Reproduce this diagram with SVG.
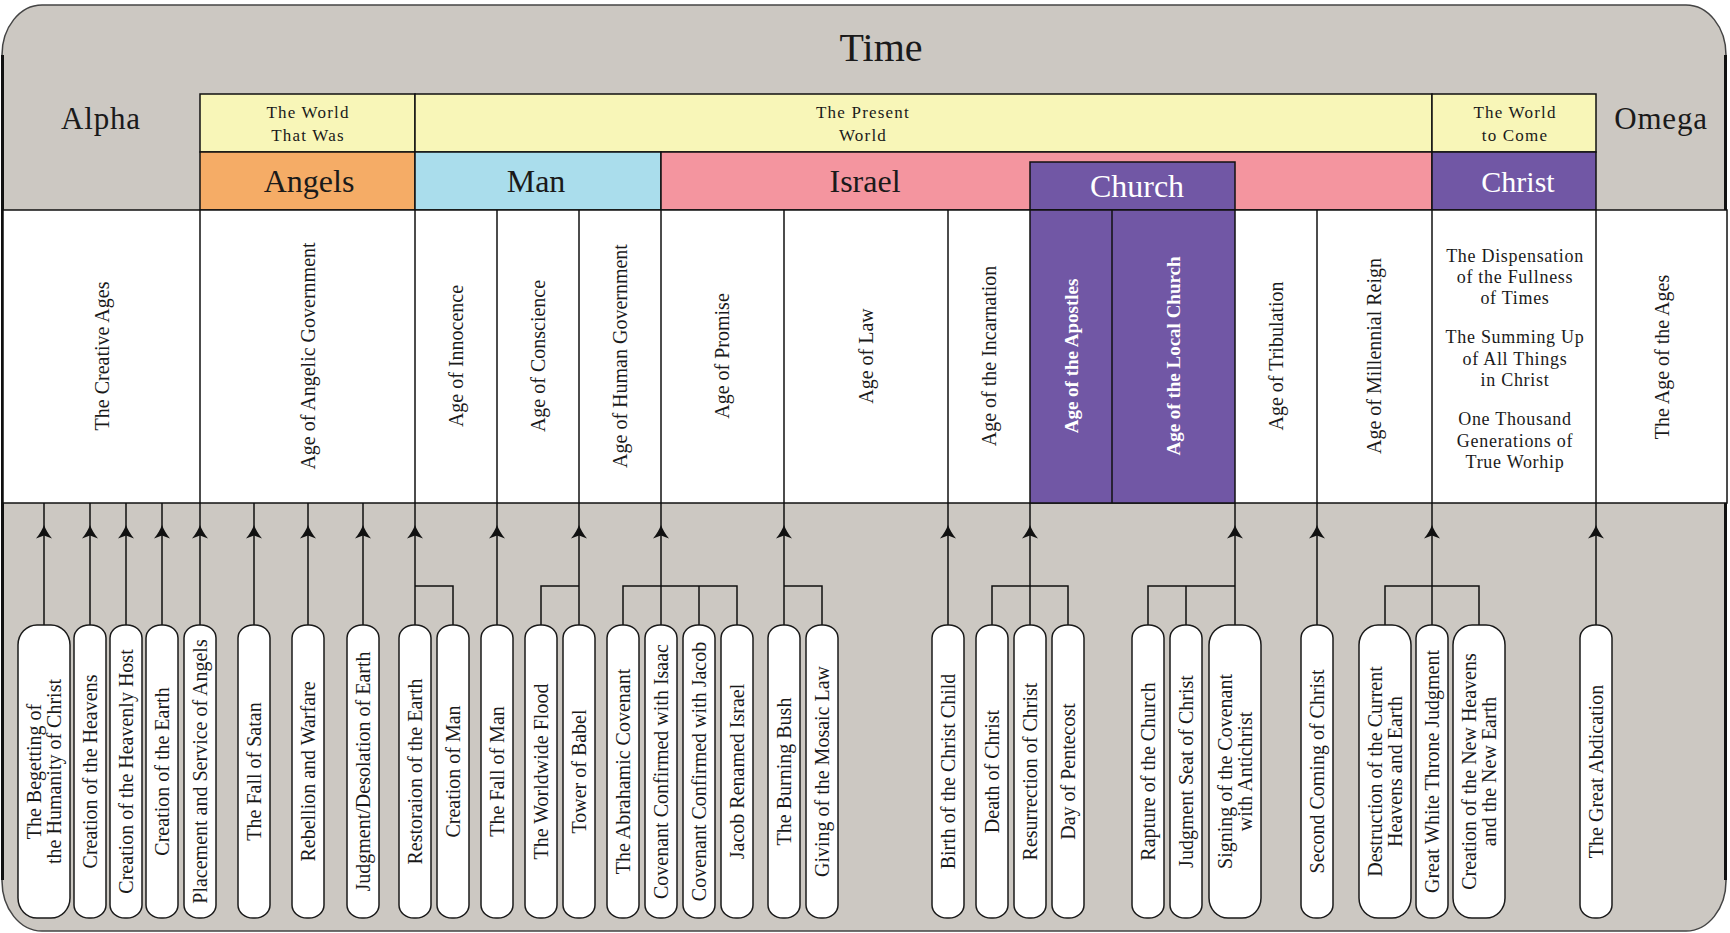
<svg xmlns="http://www.w3.org/2000/svg" xmlns:xlink="http://www.w3.org/1999/xlink" width="1730" height="933" viewBox="0 0 1730 933">
<defs>
<style>
text{font-family:"Liberation Serif","DejaVu Serif",serif;fill:#1a1a1a}
.cell{stroke:#111;stroke-width:1.5}
.pill{fill:#fff;stroke:#1a1a1a;stroke-width:1.5}
.ln{fill:none;stroke:#111;stroke-width:1.5}
.hdr{font-size:32px;text-anchor:middle}
.sm{font-size:17px;text-anchor:middle;letter-spacing:1.2px}
.v{font-size:20px;text-anchor:middle}
.vw{font-size:19px;text-anchor:middle;fill:#fff;font-weight:bold}
.blk{font-size:18px;text-anchor:middle;letter-spacing:0.7px}
.pt{font-size:20px;text-anchor:middle}
</style>
<path id="ah" d="M0,0 C-1.5,4 -4.5,9.5 -8,13.5 L0,10.5 L8,13.5 C4.5,9.5 1.5,4 0,0 Z" fill="#111"/>
</defs>

<g id="frame">
<rect x="2" y="5" width="1724" height="926" rx="40" ry="50" fill="#CCC8C2" stroke="#444" stroke-width="1.5"/>
<line x1="2.5" y1="55" x2="2.5" y2="880" stroke="#111" stroke-width="3"/>
<line x1="1725.5" y1="55" x2="1725.5" y2="880" stroke="#111" stroke-width="3"/>
<text x="881" y="61" style="font-size:40px;text-anchor:middle">Time</text>
<text x="101" y="129" class="hdr" style="font-size:31px;letter-spacing:0.8px">Alpha</text>
<text x="1661" y="129" class="hdr" style="font-size:31px;letter-spacing:0.8px">Omega</text>
</g>

<g id="worlds">
<rect class="cell" x="200" y="94" width="215" height="58" fill="#F8F6B8"/>
<rect class="cell" x="415" y="94" width="1017" height="58" fill="#F8F6B8"/>
<rect class="cell" x="1432" y="94" width="164" height="58" fill="#F8F6B8"/>
<text class="sm" x="308" y="118">The World</text>
<text class="sm" x="308" y="141">That Was</text>
<text class="sm" x="863" y="118">The Present</text>
<text class="sm" x="863" y="141">World</text>
<text class="sm" x="1515" y="118">The World</text>
<text class="sm" x="1515" y="141">to Come</text>
</g>

<g id="peoples">
<rect class="cell" x="200" y="152" width="215" height="58" fill="#F5AC66"/>
<rect class="cell" x="415" y="152" width="246" height="58" fill="#AADDEC"/>
<rect class="cell" x="661" y="152" width="771" height="58" fill="#F4959F"/>
<rect class="cell" x="1030" y="162" width="205" height="48" fill="#7157A5"/>
<rect class="cell" x="1432" y="152" width="164" height="58" fill="#7157A5"/>
<text class="hdr" x="309" y="192">Angels</text>
<text class="hdr" x="536" y="192">Man</text>
<text class="hdr" x="865" y="192">Israel</text>
<text class="hdr" x="1137" y="197" style="fill:#fff">Church</text>
<text class="hdr" x="1518" y="192" style="fill:#fff;font-size:30px">Christ</text>
</g>

<g id="ages">
<rect class="cell" x="3" y="210" width="1724" height="293" fill="#fff"/>
<rect class="cell" x="1030" y="210" width="205" height="293" fill="#7157A5"/>
<g class="ln">
<line x1="200" y1="210" x2="200" y2="503"/>
<line x1="415" y1="210" x2="415" y2="503"/>
<line x1="497" y1="210" x2="497" y2="503"/>
<line x1="579" y1="210" x2="579" y2="503"/>
<line x1="661" y1="210" x2="661" y2="503"/>
<line x1="784" y1="210" x2="784" y2="503"/>
<line x1="948" y1="210" x2="948" y2="503"/>
<line x1="1112" y1="210" x2="1112" y2="503"/>
<line x1="1317" y1="210" x2="1317" y2="503"/>
<line x1="1432" y1="210" x2="1432" y2="503"/>
<line x1="1596" y1="210" x2="1596" y2="503"/>
</g>
<text class="v" transform="translate(102,356) rotate(-90)" y="7">The Creative Ages</text>
<text class="v" transform="translate(308,356) rotate(-90)" y="7">Age of Angelic Government</text>
<text class="v" transform="translate(456,356) rotate(-90)" y="7">Age of Innocence</text>
<text class="v" transform="translate(538,356) rotate(-90)" y="7">Age of Conscience</text>
<text class="v" transform="translate(620,356) rotate(-90)" y="7">Age of Human Government</text>
<text class="v" transform="translate(722,356) rotate(-90)" y="7">Age of Promise</text>
<text class="v" transform="translate(866,356) rotate(-90)" y="7">Age of Law</text>
<text class="v" transform="translate(989,356) rotate(-90)" y="7">Age of the Incarnation</text>
<text class="vw" transform="translate(1071,356) rotate(-90)" y="7">Age of the Apostles</text>
<text class="vw" transform="translate(1173,356) rotate(-90)" y="7">Age of the Local Church</text>
<text class="v" transform="translate(1276,356) rotate(-90)" y="7">Age of Tribulation</text>
<text class="v" transform="translate(1374,356) rotate(-90)" y="7">Age of Millennial Reign</text>
<text class="v" transform="translate(1662,357) rotate(-90)" y="7">The Age of the Ages</text>
<text class="blk" x="1515" y="262">The Dispensation</text>
<text class="blk" x="1515" y="283">of the Fullness</text>
<text class="blk" x="1515" y="304">of Times</text>
<text class="blk" x="1515" y="343">The Summing Up</text>
<text class="blk" x="1515" y="365">of All Things</text>
<text class="blk" x="1515" y="386">in Christ</text>
<text class="blk" x="1515" y="425">One Thousand</text>
<text class="blk" x="1515" y="447">Generations of</text>
<text class="blk" x="1515" y="468">True Worhip</text>
</g>

<g id="connectors">
<g class="ln">
<path d="M44,625V503M90,625V503M126,625V503M162,625V503M200,625V503M254,625V503M308,625V503M363,625V503M415,625V503M497,625V503M579,625V503M661,625V503M784,625V503M948,625V503M1030,625V503M1235,625V503M1317,625V503M1432,625V503M1596,625V503"/>
<path d="M453,625V586H415"/>
<path d="M541,625V586H579"/>
<path d="M623,625V586H737V625M699,586V625"/>
<path d="M822,625V586H784"/>
<path d="M992,625V586H1068V625"/>
<path d="M1148,625V586H1235M1186,586V625"/>
<path d="M1385,625V586H1479V625"/>
</g>
<use xlink:href="#ah" x="44" y="525"/>
<use xlink:href="#ah" x="90" y="525"/>
<use xlink:href="#ah" x="126" y="525"/>
<use xlink:href="#ah" x="162" y="525"/>
<use xlink:href="#ah" x="200" y="525"/>
<use xlink:href="#ah" x="254" y="525"/>
<use xlink:href="#ah" x="308" y="525"/>
<use xlink:href="#ah" x="363" y="525"/>
<use xlink:href="#ah" x="415" y="525"/>
<use xlink:href="#ah" x="497" y="525"/>
<use xlink:href="#ah" x="579" y="525"/>
<use xlink:href="#ah" x="661" y="525"/>
<use xlink:href="#ah" x="784" y="525"/>
<use xlink:href="#ah" x="948" y="525"/>
<use xlink:href="#ah" x="1030" y="525"/>
<use xlink:href="#ah" x="1235" y="525"/>
<use xlink:href="#ah" x="1317" y="525"/>
<use xlink:href="#ah" x="1432" y="525"/>
<use xlink:href="#ah" x="1596" y="525"/>
</g>

<g id="events">
<g id="ev-begetting"><rect class="pill" x="18" y="625" width="52" height="293" rx="19" ry="20"/><text class="pt" transform="translate(44,771.5) rotate(-90)"><tspan x="0" y="-3">The Begetting of</tspan><tspan x="0" y="17">the Humanity of Christ</tspan></text></g>
<g id="ev-heavens"><rect class="pill" x="74" y="625" width="32" height="293" rx="15" ry="13"/><text class="pt" transform="translate(90,771.5) rotate(-90)" y="7">Creation of the Heavens</text></g>
<g id="ev-host"><rect class="pill" x="110" y="625" width="32" height="293" rx="15" ry="13"/><text class="pt" transform="translate(126,771.5) rotate(-90)" y="7">Creation of the Heavenly Host</text></g>
<g id="ev-earth"><rect class="pill" x="146" y="625" width="32" height="293" rx="15" ry="13"/><text class="pt" transform="translate(162,771.5) rotate(-90)" y="7">Creation of the Earth</text></g>
<g id="ev-angels"><rect class="pill" x="184" y="625" width="32" height="293" rx="15" ry="13"/><text class="pt" transform="translate(200,771.5) rotate(-90)" y="7">Placement and Service of Angels</text></g>
<g id="ev-satan"><rect class="pill" x="238" y="625" width="32" height="293" rx="15" ry="13"/><text class="pt" transform="translate(254,771.5) rotate(-90)" y="7">The Fall of Satan</text></g>
<g id="ev-rebellion"><rect class="pill" x="292" y="625" width="32" height="293" rx="15" ry="13"/><text class="pt" transform="translate(308,771.5) rotate(-90)" y="7">Rebellion and Warfare</text></g>
<g id="ev-judgment"><rect class="pill" x="347" y="625" width="32" height="293" rx="15" ry="13"/><text class="pt" transform="translate(363,771.5) rotate(-90)" y="7">Judgment/Desolation of Earth</text></g>
<g id="ev-restoration"><rect class="pill" x="399" y="625" width="32" height="293" rx="15" ry="13"/><text class="pt" transform="translate(415,771.5) rotate(-90)" y="7">Restoraion of the Earth</text></g>
<g id="ev-man"><rect class="pill" x="437" y="625" width="32" height="293" rx="15" ry="13"/><text class="pt" transform="translate(453,771.5) rotate(-90)" y="7">Creation of Man</text></g>
<g id="ev-fallman"><rect class="pill" x="481" y="625" width="32" height="293" rx="15" ry="13"/><text class="pt" transform="translate(497,771.5) rotate(-90)" y="7">The Fall of Man</text></g>
<g id="ev-flood"><rect class="pill" x="525" y="625" width="32" height="293" rx="15" ry="13"/><text class="pt" transform="translate(541,771.5) rotate(-90)" y="7">The Worldwide Flood</text></g>
<g id="ev-babel"><rect class="pill" x="563" y="625" width="32" height="293" rx="15" ry="13"/><text class="pt" transform="translate(579,771.5) rotate(-90)" y="7">Tower of Babel</text></g>
<g id="ev-abraham"><rect class="pill" x="607" y="625" width="32" height="293" rx="15" ry="13"/><text class="pt" transform="translate(623,771.5) rotate(-90)" y="7">The Abrahamic Covenant</text></g>
<g id="ev-isaac"><rect class="pill" x="645" y="625" width="32" height="293" rx="15" ry="13"/><text class="pt" transform="translate(661,771.5) rotate(-90)" y="7">Covenant Confirmed with Isaac</text></g>
<g id="ev-jacob"><rect class="pill" x="683" y="625" width="32" height="293" rx="15" ry="13"/><text class="pt" transform="translate(699,771.5) rotate(-90)" y="7">Covenant Confirmed with Jacob</text></g>
<g id="ev-israel"><rect class="pill" x="721" y="625" width="32" height="293" rx="15" ry="13"/><text class="pt" transform="translate(737,771.5) rotate(-90)" y="7">Jacob Renamed Israel</text></g>
<g id="ev-bush"><rect class="pill" x="768" y="625" width="32" height="293" rx="15" ry="13"/><text class="pt" transform="translate(784,771.5) rotate(-90)" y="7">The Burning Bush</text></g>
<g id="ev-law"><rect class="pill" x="806" y="625" width="32" height="293" rx="15" ry="13"/><text class="pt" transform="translate(822,771.5) rotate(-90)" y="7">Giving of the Mosaic Law</text></g>
<g id="ev-birth"><rect class="pill" x="932" y="625" width="32" height="293" rx="15" ry="13"/><text class="pt" transform="translate(948,771.5) rotate(-90)" y="7">Birth of the Christ Child</text></g>
<g id="ev-death"><rect class="pill" x="976" y="625" width="32" height="293" rx="15" ry="13"/><text class="pt" transform="translate(992,771.5) rotate(-90)" y="7">Death of Christ</text></g>
<g id="ev-resurrection"><rect class="pill" x="1014" y="625" width="32" height="293" rx="15" ry="13"/><text class="pt" transform="translate(1030,771.5) rotate(-90)" y="7">Resurrection of Christ</text></g>
<g id="ev-pentecost"><rect class="pill" x="1052" y="625" width="32" height="293" rx="15" ry="13"/><text class="pt" transform="translate(1068,771.5) rotate(-90)" y="7">Day of Pentecost</text></g>
<g id="ev-rapture"><rect class="pill" x="1132" y="625" width="32" height="293" rx="15" ry="13"/><text class="pt" transform="translate(1148,771.5) rotate(-90)" y="7">Rapture of the Church</text></g>
<g id="ev-seat"><rect class="pill" x="1170" y="625" width="32" height="293" rx="15" ry="13"/><text class="pt" transform="translate(1186,771.5) rotate(-90)" y="7">Judgment Seat of Christ</text></g>
<g id="ev-signing"><rect class="pill" x="1209" y="625" width="52" height="293" rx="19" ry="20"/><text class="pt" transform="translate(1235,771.5) rotate(-90)"><tspan x="0" y="-3">Signing of the Covenant</tspan><tspan x="0" y="17">with Antichrist</tspan></text></g>
<g id="ev-second"><rect class="pill" x="1301" y="625" width="32" height="293" rx="15" ry="13"/><text class="pt" transform="translate(1317,771.5) rotate(-90)" y="7">Second Coming of Christ</text></g>
<g id="ev-destruction"><rect class="pill" x="1359" y="625" width="52" height="293" rx="19" ry="20"/><text class="pt" transform="translate(1385,771.5) rotate(-90)"><tspan x="0" y="-3">Destruction of the Current</tspan><tspan x="0" y="17">Heavens and Earth</tspan></text></g>
<g id="ev-throne"><rect class="pill" x="1416" y="625" width="32" height="293" rx="15" ry="13"/><text class="pt" transform="translate(1432,771.5) rotate(-90)" y="7">Great White Throne Judgment</text></g>
<g id="ev-newheavens"><rect class="pill" x="1453" y="625" width="52" height="293" rx="19" ry="20"/><text class="pt" transform="translate(1479,771.5) rotate(-90)"><tspan x="0" y="-3">Creation of the New Heavens</tspan><tspan x="0" y="17">and the New Earth</tspan></text></g>
<g id="ev-abdication"><rect class="pill" x="1580" y="625" width="32" height="293" rx="15" ry="13"/><text class="pt" transform="translate(1596,771.5) rotate(-90)" y="7">The Great Abdication</text></g>
</g>
</svg>
